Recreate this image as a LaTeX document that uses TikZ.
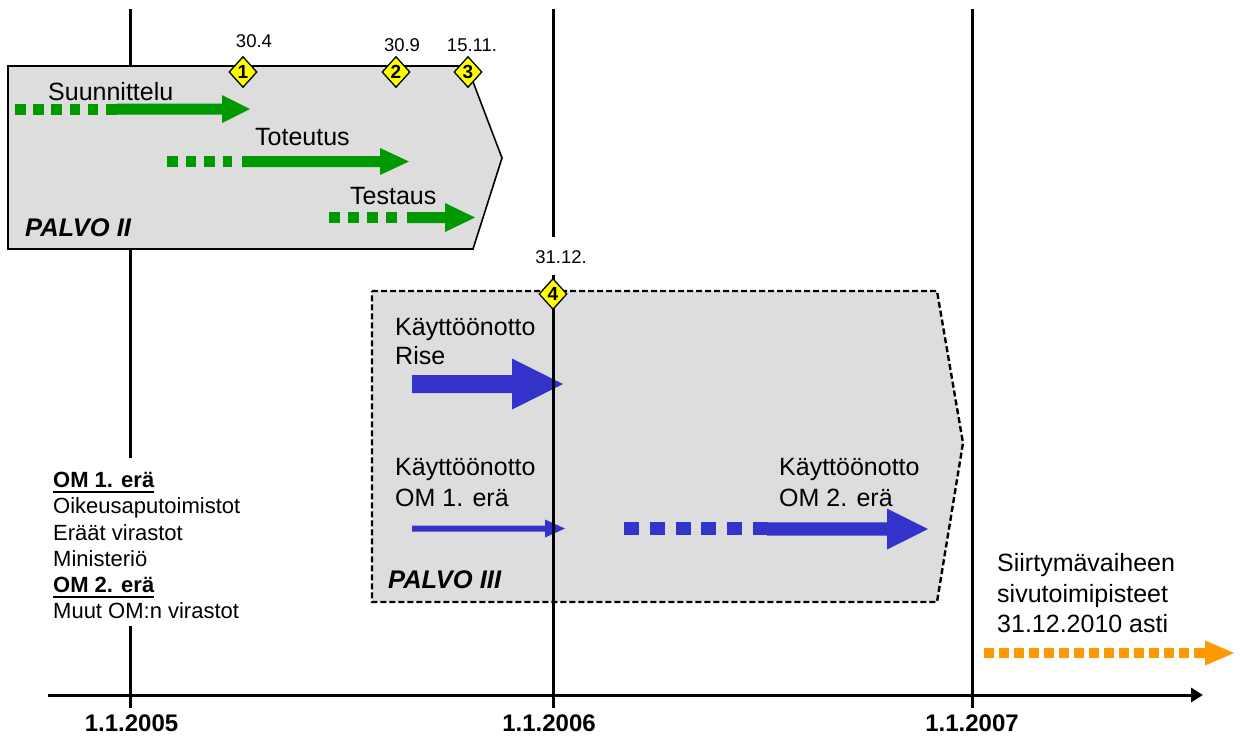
\documentclass[tikz,border=0pt]{standalone}
\usepackage{fontspec}
\setmainfont{Liberation Sans}
\usetikzlibrary{arrows.meta,shapes.geometric}
\definecolor{pgreen}{HTML}{009900}
\definecolor{pblue}{HTML}{3333CC}
\definecolor{porange}{HTML}{FF9900}
\definecolor{pgray}{HTML}{DDDDDD}
\definecolor{pyellow}{HTML}{FFFF00}
% block arrow: #1 start x, #2 head base x, #3 tip x, #4 y, #5 shaft half height, #6 head half height, #7 colour
\newcommand\blockarr[7]{\fill[#7] ({#1},{#4-#5}) -- ({#2},{#4-#5}) -- ({#2},{#4-#6}) -- ({#3},{#4}) -- ({#2},{#4+#6}) -- ({#2},{#4+#5}) -- ({#1},{#4+#5}) -- cycle;}
\begin{document}
\begin{tikzpicture}[x=1pt,y=-1pt,
  big/.style={font=\fontsize{25}{29}\selectfont, inner sep=0, anchor=base west},
  small/.style={font=\fontsize{22}{26}\selectfont, inner sep=0, anchor=base west},
  datel/.style={font=\fontsize{18.5}{20}\selectfont, inner sep=0, anchor=base},
  axlbl/.style={font=\fontsize{24}{28}\selectfont\bfseries, inner sep=0, anchor=base},
  phase/.style={font=\fontsize{25.5}{28}\selectfont\bfseries\itshape, inner sep=0, anchor=base west},
  mile/.style={diamond, draw=black, line width=1.3pt, fill=pyellow, minimum width=28pt, minimum height=31pt, inner sep=0pt, font=\fontsize{19}{19}\selectfont\bfseries},
  timeline/.style={line width=3pt, black},
  phasebox/.style={fill=pgray, draw=black, line width=1.6pt, line join=miter},
  phasebox2/.style={fill=pgray, draw=black, line width=2.4pt, dash pattern=on 6pt off 3pt},
]
\useasboundingbox (0,0) rectangle (1240,740);
\fill[white] (0,0) rectangle (1240,740);

% time line coordinates
\coordinate (v1t) at (130,9);  \coordinate (v1b) at (130,708);
\coordinate (v2t) at (553,9);  \coordinate (v2m) at (553,237);
\coordinate (v2n) at (553,275); \coordinate (v2b) at (553,708);
\coordinate (v3t) at (972,9);  \coordinate (v3b) at (972,708);
\coordinate (axL) at (48,695);  \coordinate (axR) at (1203,695);

\draw[timeline] (v1t) -- (v1b);

% PALVO II
\draw[phasebox] (8,66) -- (467,66) -- (502,158) -- (473,249) -- (8,249) -- cycle;
% PALVO III
\draw[phasebox2] (372,291) -- (937,291) -- (963,443) -- (937,602) -- (372,602) -- cycle;

% green arrows
\draw[pgreen, line width=11pt, dash pattern=on 10.5pt off 7.7pt] (15,109) -- (117,109);
\blockarr{117}{222}{250}{109}{5.5}{14}{pgreen}
\draw[pgreen, line width=11pt, dash pattern=on 10.5pt off 8pt] (167,161.5) -- (232,161.5);
\blockarr{242}{380}{409}{161.5}{5.5}{13.5}{pgreen}
\draw[pgreen, line width=11pt, dash pattern=on 11pt off 8pt] (329,217.5) -- (397,217.5);
\blockarr{407}{445}{475}{217.5}{5.5}{14.5}{pgreen}

% blue arrows
\blockarr{412}{512}{563}{384}{9}{25.5}{pblue}
\blockarr{412}{545}{565}{528.5}{3}{9}{pblue}
\draw[pblue, line width=13pt, dash pattern=on 15pt off 10.8pt] (624,528.5) -- (768,528.5);
\blockarr{767}{887}{928}{529}{6.7}{20.5}{pblue}

% orange arrow
\draw[porange, line width=10pt, dash pattern=on 9.5pt off 5.5pt] (984,653) -- (1195,653);
\blockarr{1194}{1205}{1234}{653}{5}{12.5}{porange}

% time lines
\draw[timeline] (v2t) -- (v2m);
\draw[timeline] (v2n) -- (v2b);
\draw[timeline] (v3t) -- (v3b);
\draw[timeline, -{Triangle[length=12pt,width=14pt]}] (axL) -- (axR);

% milestones
\node[mile] (m1) at (243,72) {1};
\node[mile] (m2) at (396,72) {2};
\node[mile] (m3) at (468,72) {3};
\node[mile] (m4) at (553,294) {4};
\node[datel] (d1) at (254,47) {30.4};
\node[datel] (d2) at (402,51) {30.9};
\node[datel] (d3) at (472,51) {15.11.};
\node[datel] (d4) at (561,263) {31.12.};

% texts PALVO II
\node[big] (suun) at (48,100) {Suunnittelu};
\node[big] (tot) at (255,145) {Toteutus};
\node[big] (tes) at (350,204) {Testaus};
\node[phase] (p2) at (25,236) {PALVO II};

% texts PALVO III
\node[big] (kr1) at (395,335) {Käyttöönotto};
\node[big] (kr2) at (395,364) {Rise};
\node[big] (ka1) at (395,475) {Käyttöönotto};
\node[big] (ka2) at (395,506) {OM 1. erä};
\node[big] (kb1) at (779,475) {Käyttöönotto};
\node[big] (kb2) at (779,506) {OM 2. erä};
\node[phase] (p3) at (388,588) {PALVO III};

% left block
\fill[white] (48,458) rectangle (250,626);
\node[small, font=\fontsize{22}{26}\selectfont\bfseries] (h1) at (53,487) {OM 1. erä};
\draw[line width=2.6pt] ([yshift=-5pt]h1.base west) -- ([yshift=-5pt]h1.base east);
\node[small] (l1) at (53,513.5) {Oikeusaputoimistot};
\node[small] (l2) at (53,540) {Eräät virastot};
\node[small] (l3) at (53,566) {Ministeriö};
\node[small, font=\fontsize{22}{26}\selectfont\bfseries] (h2) at (53,592) {OM 2. erä};
\draw[line width=2.6pt] ([yshift=-5pt]h2.base west) -- ([yshift=-5pt]h2.base east);
\node[small] (l4) at (53,618) {Muut OM:n virastot};

% right text
\node[big] (s1) at (997,571) {Siirtymävaiheen};
\node[big] (s2) at (997,602) {sivutoimipisteet};
\node[big] (s3) at (997,632) {31.12.2010 asti};

% axis labels
\node[axlbl] (y5) at (131.5,731) {1.1.2005};
\node[axlbl] (y6) at (549,731) {1.1.2006};
\node[axlbl] (y7) at (972,731) {1.1.2007};
\end{tikzpicture}
\end{document}
